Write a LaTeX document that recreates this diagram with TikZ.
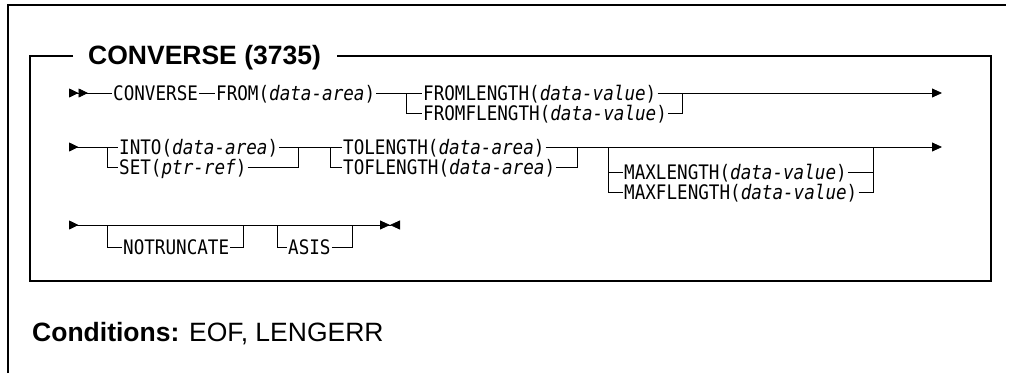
\documentclass[tikz,border=0pt]{standalone}
\usepackage{fontspec}
\setmainfont{Liberation Sans}
\newfontfamily\railfont[FakeStretch=0.88]{DejaVu Sans Mono}
\usetikzlibrary{arrows.meta}

\begin{document}
\begin{tikzpicture}[x=1pt, y=-1pt]
	\tikzstyle{kw} = [anchor=west, inner xsep=1pt, inner ysep=0pt, text height=14.6pt, text depth=0pt, font=\railfont\fontsize{20}{20}\selectfont]
	\tikzstyle{rail} = [draw, line width=0.8pt]
	\tikzstyle{frame} = [draw, line width=1.4pt]
	\useasboundingbox (0,0) rectangle (1010,373);

	    % Frames and headings
	    \path [frame] (8,373) -- (8,5) -- (1006,5);
	    \path [frame] (73,56) -- (30,56) -- (30,281) -- (991,281) -- (991,56) -- (337,56);
	    \node [anchor=base west, inner sep=0pt, font=\bfseries\fontsize{26.5}{26.5}\selectfont] (head) at (88,64) {CONVERSE (3735)};
	    \node [anchor=base west, inner sep=0pt, font=\fontsize{26.5}{26.5}\selectfont] (cond) at (32,341) {\textbf{Conditions:} EOF, LENGERR};

	    % Place nodes
	    \node [kw] (conv) at (112,93) {CONVERSE};
	    \node [kw] (from) at (215,93) {FROM(\textit{data-area})};
	    \node [kw] (fl) at (422,93) {FROMLENGTH(\textit{data-value})};
	    \node [kw] (ffl) at (422,113) {FROMFLENGTH(\textit{data-value})};

	    \node [kw] (into) at (118,147) {INTO(\textit{data-area})};
	    \node [kw] (set) at (118,167) {SET(\textit{ptr-ref})};
	    \node [kw] (tol) at (342,147) {TOLENGTH(\textit{data-area})};
	    \node [kw] (tofl) at (342,167) {TOFLENGTH(\textit{data-area})};
	    \node [kw] (maxl) at (623,172) {MAXLENGTH(\textit{data-value})};
	    \node [kw] (maxfl) at (623,192) {MAXFLENGTH(\textit{data-value})};

	    \node [kw] (notr) at (122,247) {NOTRUNCATE};
	    \node [kw] (asis) at (287,247) {ASIS};

	    % Junctions
	    \coordinate (r1a) at (69,93);
	    \coordinate (r1b) at (406,93);
	    \coordinate (r1c) at (682,93);
	    \coordinate (r1d) at (942,93);
	    \coordinate (r2a) at (69,147);
	    \coordinate (r2b) at (107,147);
	    \coordinate (r2c) at (298,147);
	    \coordinate (r2d) at (330,147);
	    \coordinate (r2e) at (577,147);
	    \coordinate (r2f) at (608,147);
	    \coordinate (r2g) at (873,147);
	    \coordinate (r2h) at (942,147);
	    \coordinate (r3a) at (69,225);
	    \coordinate (r3b) at (107,225);
	    \coordinate (r3c) at (243,225);
	    \coordinate (r3d) at (277,225);
	    \coordinate (r3e) at (352,225);
	    \coordinate (r3f) at (400,225);

	    % Draw edges
	    \path [rail, {Triangle[reversed, length=9.5pt, width=9pt] Triangle[reversed, length=9.5pt, width=9pt]}-] (r1a) -- (conv);
	    \path [rail] (conv) -- (from);
	    \path [rail] (from) -- (fl);
	    \path [rail] (r1b) |- (ffl);
	    \path [rail] (fl) -- (r1c);
	    \path [rail] (ffl) -| (r1c);
	    \path [rail, -{Triangle[length=10pt, width=9pt]}] (r1c) -- (r1d);

	    \path [rail, {Triangle[reversed, length=9.5pt, width=9pt]}-] (r2a) -- (into);
	    \path [rail] (r2b) |- (set);
	    \path [rail] (set) -| (r2c);
	    \path [rail] (into) -- (tol);
	    \path [rail] (r2d) |- (tofl);
	    \path [rail] (tofl) -| (r2e);
	    \path [rail, -{Triangle[length=10pt, width=9pt]}] (tol) -- (r2h);
	    \path [rail] (r2f) |- (maxl);
	    \path [rail] (r2f) |- (maxfl);
	    \path [rail] (maxl) -| (r2g);
	    \path [rail] (maxfl) -| (r2g);

	    \path [rail, {Triangle[reversed, length=9.5pt, width=9pt]}-{Triangle[length=10pt, width=9pt] Triangle[reversed, length=10pt, width=9pt]}] (r3a) -- (r3f);
	    \path [rail] (r3b) |- (notr);
	    \path [rail] (notr) -| (r3c);
	    \path [rail] (r3d) |- (asis);
	    \path [rail] (asis) -| (r3e);

\end{tikzpicture}
\end{document}
